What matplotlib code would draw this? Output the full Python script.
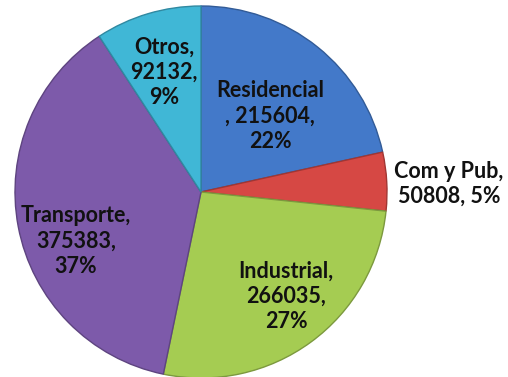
import matplotlib
matplotlib.use("Agg")
import matplotlib.pyplot as plt
from matplotlib.colors import to_rgb

# Energy use by sector
sectors = ["Residencial", "Com y Pub", "Industrial", "Transporte", "Otros"]
values = [215604, 50808, 266035, 375383, 92132]
pct_labels = ["22%", "5%", "27%", "37%", "9%"]
label_texts = [
    "Residencial\n, 215604,\n22%",
    "Com y Pub,\n50808, 5%",
    "Industrial,\n266035,\n27%",
    "Transporte,\n375383,\n37%",
    "Otros,\n92132,\n9%",
]

colors = ["#4379C9", "#D64844", "#A5CC52", "#7D5AAA", "#40B7D6"]

W, H = 508, 377
fig = plt.figure(figsize=(W / 100, H / 100), dpi=100)
ax = fig.add_axes([0, 0, 1, 1])

cx, cy, R = 201, H - 192, 186

def darker(c, f=0.7):
    r, g, b = to_rgb(c)
    return (r * f, g * f, b * f)

wedges, _ = ax.pie(values, colors=colors, startangle=90, counterclock=False,
                   center=(cx, cy), radius=R, frame=False,
                   wedgeprops=dict(linewidth=1.0))
for w, c in zip(wedges, colors):
    w.set_edgecolor(darker(c, 0.75))

ax.set_xlim(0, W)
ax.set_ylim(0, H)
ax.set_aspect("equal")
ax.axis("off")

# label anchor points (pixel layout, measured from the top-left)
label_xy = [(270, 116), (449, 184), (286, 296), (76, 241), (164, 72)]
for txt, (x, y) in zip(label_texts, label_xy):
    ax.text(x, H - y, txt, ha="center", va="center", fontsize=15.5,
            fontweight="bold", family="Lato", color="#111111", linespacing=1.25)

fig.savefig("out.png", dpi=100)
